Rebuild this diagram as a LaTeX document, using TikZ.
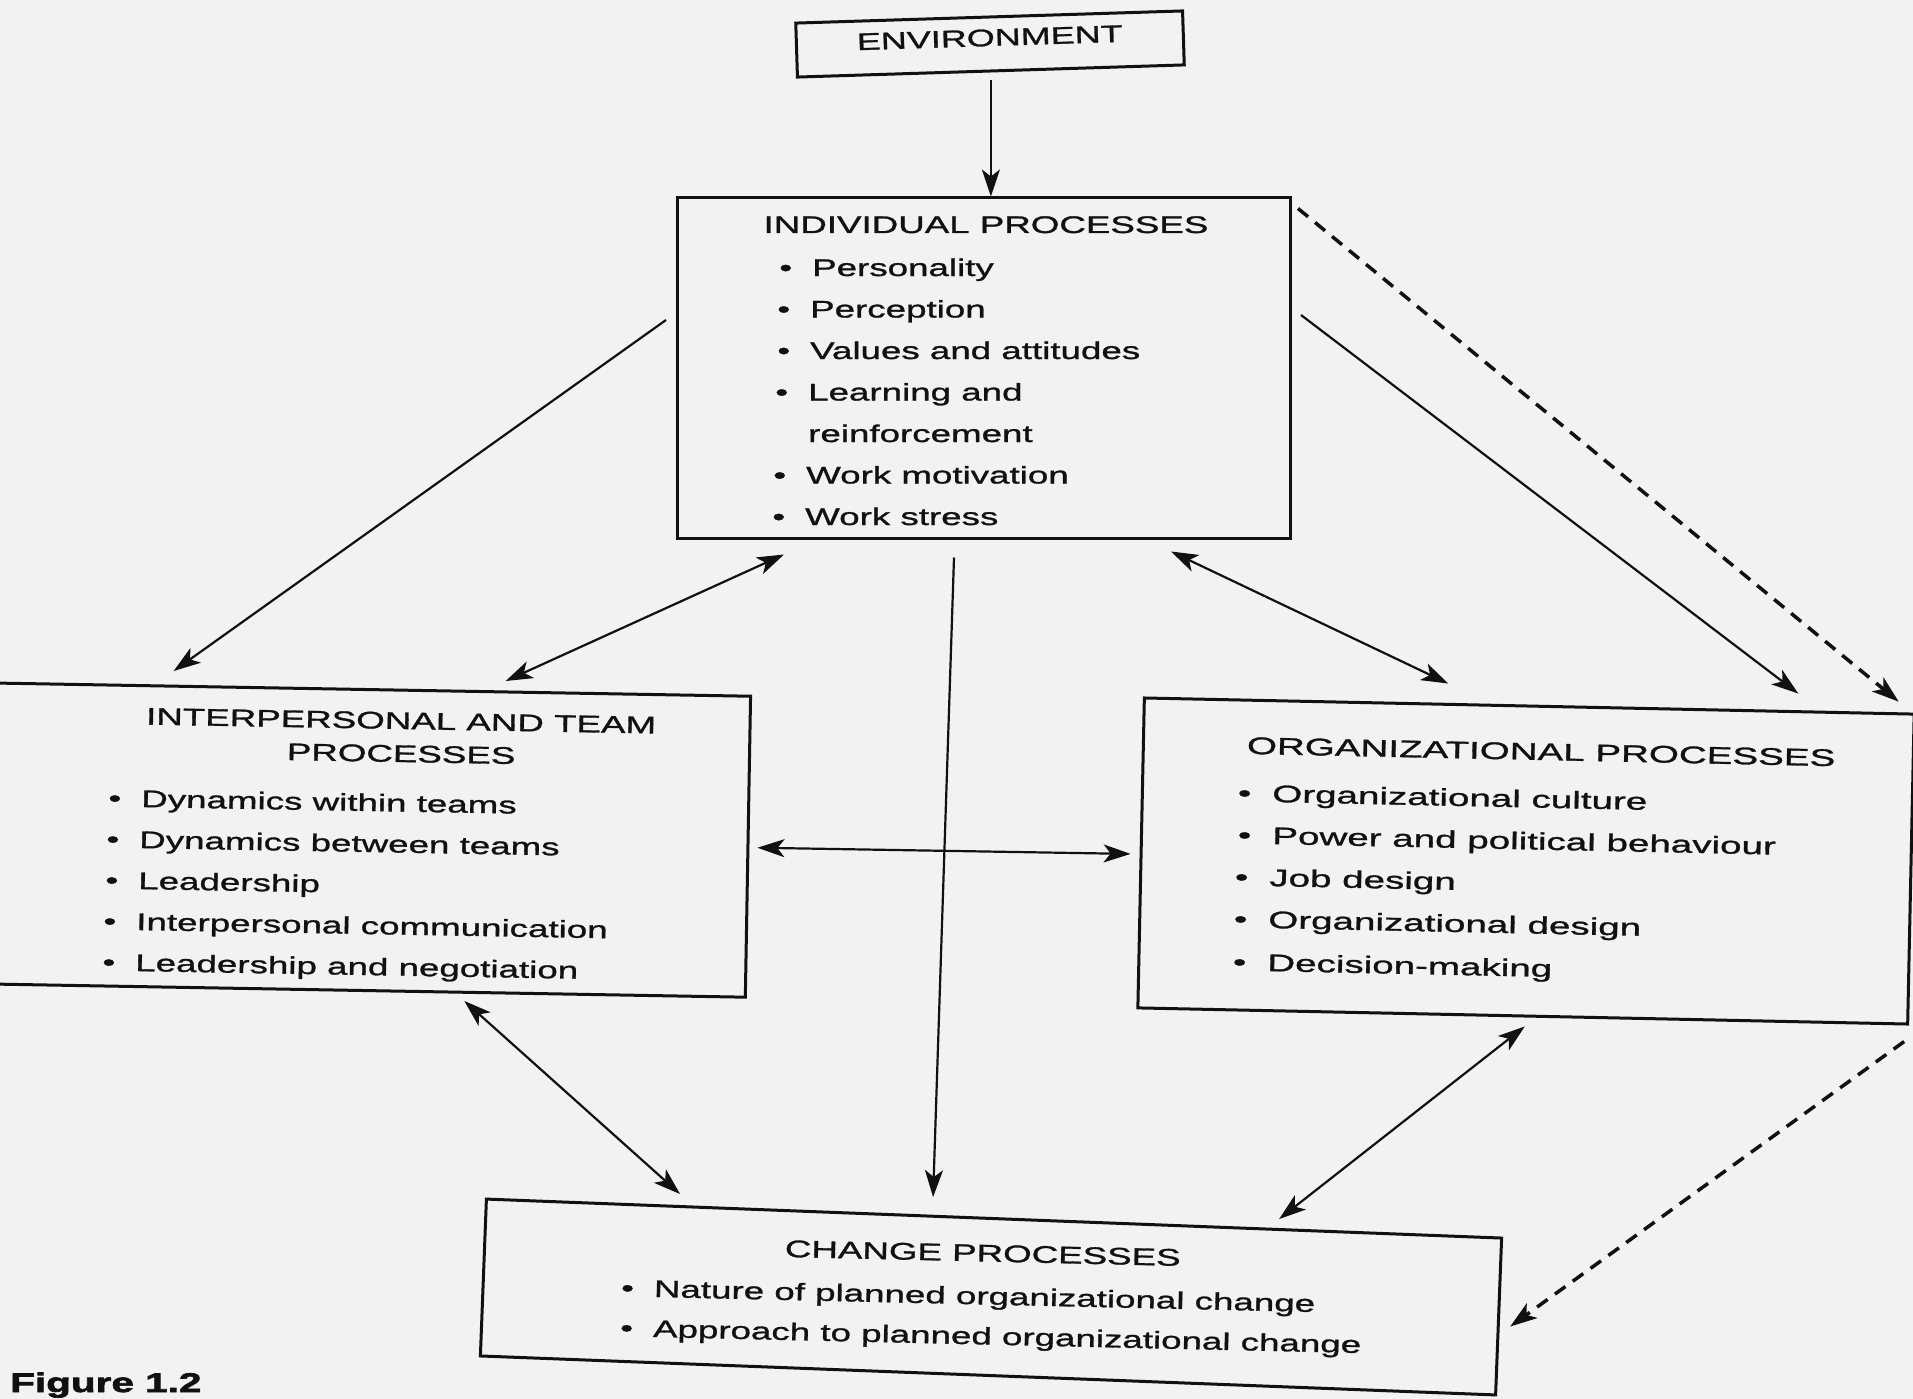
\documentclass[tikz,border=0pt]{standalone}
\usepackage{fontspec}
\setmainfont{Liberation Sans}[FakeStretch=1.53, FakeBold=1.2]
\newfontfamily\figfont{Liberation Sans}[FakeStretch=1.5, FakeBold=2.5]
\usetikzlibrary{arrows.meta,calc}
\definecolor{paper}{HTML}{F2F2F2}
\definecolor{ink}{HTML}{111111}
\newcommand{\bul}{\llap{\textbullet\hspace{20pt}}}
\tikzset{
  box/.style={draw=ink, line width=3pt, inner sep=0pt, rectangle},
  txt/.style={inner sep=0pt, text=ink, font=\fontsize{24}{28}\selectfont},
  arr/.style={draw=ink, line width=2.2pt, -{Stealth[length=27pt,width=18pt,inset=7pt]}},
  darr/.style={arr, {Stealth[length=27pt,width=18pt,inset=7pt]}-{Stealth[length=27pt,width=18pt,inset=7pt]}},
  dsh/.style={arr, line width=3.5pt, dash pattern=on 13pt off 9pt},
}
\begin{document}
\begin{tikzpicture}[x=1pt,y=-1pt]
\fill[paper] (0,0) rectangle (1913,1399);
\useasboundingbox (0,0) rectangle (1913,1399);
\clip (0,0) rectangle (1913,1399);

% ENVIRONMENT
\node[box, minimum width=387pt, minimum height=54pt, rotate=1.8] (env) at (990,44) {};
\node[txt, anchor=base, rotate=1.8, xscale=0.98] (envt) at (990,46) {ENVIRONMENT};

% INDIVIDUAL
\node[box, minimum width=613pt, minimum height=340pt] (ind) at (984,368) {};
\node[txt, anchor=base] (indt) at (986,233) {INDIVIDUAL PROCESSES};
\foreach \x/\y/\t [count=\i] in {812/276/Personality, 810/317.5/Perception, 810/359/Values and attitudes, 808/400.5/Learning and, 806/483.5/Work motivation, 805/525/Work stress}
  \node[txt, anchor=base west] (ind\i) at (\x,\y) {\bul\t};
\node[txt, anchor=base west] (indr) at (808,442) {reinforcement};

% INTERPERSONAL
\node[box, minimum width=768pt, minimum height=301pt, rotate=-1] (interp) at (364,840) {};
\node[txt, anchor=base, rotate=-1] (interpt1) at (401,729) {INTERPERSONAL AND TEAM};
\node[txt, anchor=base, rotate=-1] (interpt2) at (401,762) {PROCESSES};
\foreach \x/\y/\t [count=\i] in {141/807/Dynamics within teams, 139/848/Dynamics between teams, 138/889/Leadership, 136/930/Interpersonal communication, 135/971/Leadership and negotiation}
  \node[txt, anchor=base west, rotate=-1] (interp\i) at (\x,\y) {\bul\t};

% ORGANIZATIONAL
\node[box, minimum width=770pt, minimum height=310pt, rotate=-1.2] (org) at (1526,861) {};
\node[txt, anchor=base, rotate=-1.2, xscale=1.05] (orgt) at (1541,760) {ORGANIZATIONAL PROCESSES};
\foreach \x/\y/\t [count=\i] in {1272/802/Organizational culture, 1272/844/Power and political behaviour, 1269/886/Job design, 1268/928/Organizational design, 1267/971/Decision-making}
  \node[txt, anchor=base west, rotate=-1.2, xscale=1.05] (org\i) at (\x,\y) {\bul\t};

% CHANGE
\node[box, minimum width=1016pt, minimum height=157pt, rotate=-2.2] (chg) at (991,1297) {};
\node[txt, anchor=north west, rotate=-1.3, align=left, font=\fontsize{24}{40}\selectfont] (chgl) at (655,1237)
  {\hspace*{130pt}CHANGE PROCESSES\\[3pt]\bul Nature of planned organizational change\\\bul Approach to planned organizational change};

% caption
\node[anchor=base west, inner sep=0pt, text=ink, font=\figfont\bfseries\fontsize{27}{30}\selectfont] (fig) at (10,1392) {Figure 1.2};

% connectors
\draw[arr] ([yshift=-8pt]env.south) -- (env.south |- ind.north);
\draw[arr] ($(ind.west)+(-10,-48)$) -- ($(interp.north)+(-193,-17)$);
\draw[darr] ($(ind.south)+(-200,15)$) -- ($(interp.north)+(139,-7)$);
\draw[arr] ($(ind.south)+(-30,18)$) -- ($(chg.north)+(-61,-20)$);
\draw[darr] ($(ind.south)+(187,12)$) -- ($(org.north)+(-81,-21)$);
\draw[arr] ($(ind.east)+(9,-53)$) -- ($(org.north)+(269,-11)$);
\draw[dsh] ($(ind.north east)+(6,12)$) -- ($(org.north east)+(-17,-11)$);
\draw[darr] ($(interp.east)+(8,1)$) -- ($(org.west)+(-9,1)$);
\draw[darr] ($(interp.south)+(103,9)$) -- ($(chg.north)+(-314,-23)$);
\draw[darr] ($(org.south)+(2,9)$) -- ($(chg.north)+(285,2)$);
\draw[dsh] ($(org.south east)+(-5,16)$) -- ($(chg.east)+(10,10)$);
\end{tikzpicture}
\end{document}
